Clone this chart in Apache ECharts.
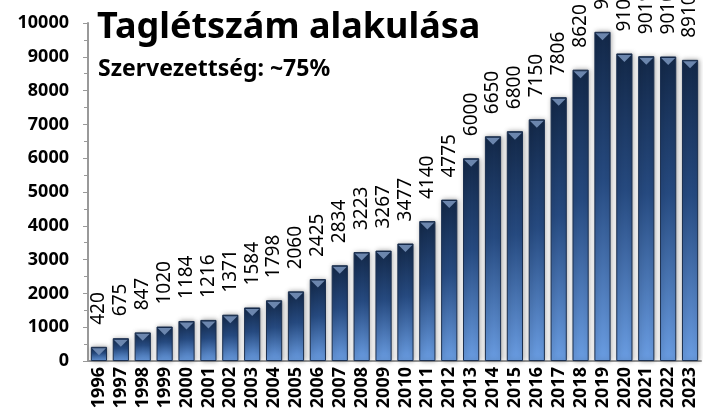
<!DOCTYPE html>
<html>
<head>
<meta charset="utf-8">
<script src="https://cdn.jsdelivr.net/npm/echarts@6/dist/echarts.min.js"></script>
<style>
  html, body { margin: 0; padding: 0; background: #fff; }
  #chart { width: 703px; height: 415px; }
</style>
</head>
<body>
<div id="chart"></div>
<script>
var years = ['1996', '1997', '1998', '1999', '2000', '2001', '2002', '2003', '2004', '2005',
    '2006', '2007', '2008', '2009', '2010', '2011', '2012', '2013', '2014', '2015',
    '2016', '2017', '2018', '2019', '2020', '2021', '2022', '2023'];
var members = [420, 675, 847, 1020, 1184, 1216, 1371, 1584, 1798, 2060,
    2425, 2834, 3223, 3267, 3477, 4140, 4775, 6000, 6650, 6800,
    7150, 7806, 8620, 9740, 9100, 9019, 9010, 8910];

var FONT = 'Noto Sans';

var chart = echarts.init(document.getElementById('chart'));

var option = {
    backgroundColor: '#fff',
    animation: false,
    title: [{
        text: 'Taglétszám alakulása',
        left: 92,
        top: 5,
        textStyle: { fontFamily: FONT, fontSize: 36, fontWeight: 'bold', color: '#000' }
    }, {
        text: 'Szervezettség: ~75%',
        left: 93,
        top: 53,
        textStyle: { fontFamily: FONT, fontSize: 23, fontWeight: 'bold', color: '#000' }
    }],
    grid: { left: 88, right: 2, top: 23, bottom: 54 },
    xAxis: {
        type: 'category',
        data: years,
        axisLine: { lineStyle: { color: '#999', width: 2 } },
        axisTick: { show: false },
        axisLabel: {
            rotate: 90,
            interval: 0,
            margin: 6,
            color: '#000',
            fontFamily: FONT,
            fontWeight: 'bold',
            fontSize: 18
        }
    },
    yAxis: {
        type: 'value',
        min: 0,
        max: 10000,
        interval: 1000,
        splitLine: { show: false },
        axisLine: { show: true, lineStyle: { color: '#999', width: 2 } },
        axisTick: { show: true, length: 5, lineStyle: { color: '#999' } },
        minorTick: { show: true, splitNumber: 2, length: 4, lineStyle: { color: '#999' } },
        axisLabel: {
            margin: 19,
            color: '#000',
            fontFamily: FONT,
            fontWeight: 'bold',
            fontSize: 18,
            formatter: function (v) { return String(v); }
        }
    },
    series: [{
        type: 'bar',
        data: members,
        barCategoryGap: '26%',
        itemStyle: {
            color: new echarts.graphic.LinearGradient(0, 0, 0, 1, [
                { offset: 0, color: '#132848' },
                { offset: 0.45, color: '#264a80' },
                { offset: 1, color: '#6a9de2' }
            ]),
            borderColor: '#1b2f4f',
            borderWidth: 1,
            shadowBlur: 5,
            shadowOffsetX: 1,
            shadowOffsetY: 0,
            shadowColor: 'rgba(0,0,0,0.35)'
        },
        label: {
            show: true,
            position: 'top',
            rotate: 90,
            align: 'left',
            verticalAlign: 'middle',
            distance: 22,
            color: '#000',
            fontFamily: FONT,
            fontSize: 19
        }
    }, {
        type: 'scatter',
        data: members,
        symbol: 'triangle',
        symbolRotate: 180,
        symbolSize: [14, 7],
        symbolOffset: [0, 5],
        silent: true,
        z: 3,
        itemStyle: { color: '#7590b8', opacity: 0.9 }
    }]
};

chart.setOption(option);
</script>
</body>
</html>
